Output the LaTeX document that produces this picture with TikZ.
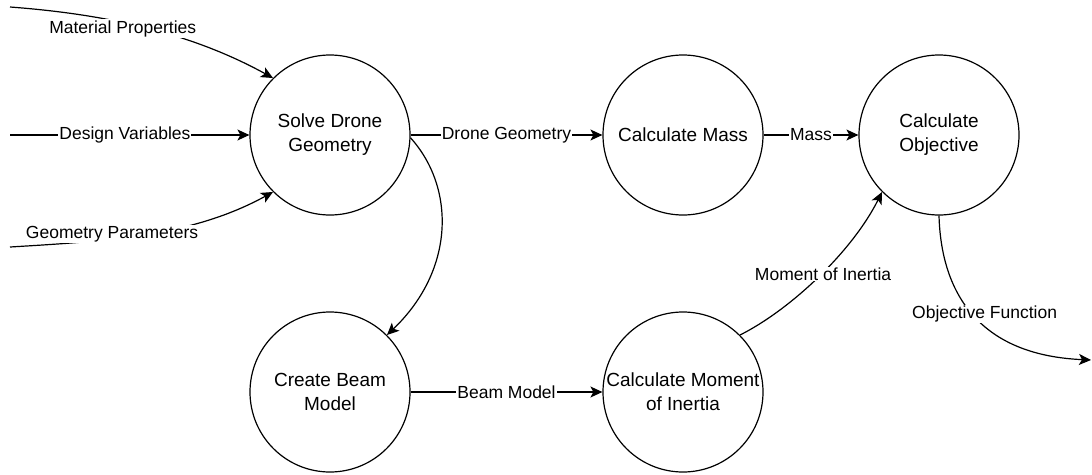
\documentclass[tikz,border=0pt]{standalone}
\usepackage{fontspec}
\setmainfont{Liberation Sans}
\usetikzlibrary{arrows.meta}
\begin{document}
\begin{tikzpicture}[x=1pt,y=-1pt,
  every path/.style={line width=1.2pt},
  >={Stealth[length=12pt,width=11pt,inset=3pt]},
  proc/.style={circle, draw, line width=1.2pt, minimum size=160pt, inner sep=0pt,
    align=center, font=\fontsize{19}{24}\selectfont},
  elabel/.style={fill=white, inner sep=1pt, font=\fontsize{17.5}{20}\selectfont},
  flow/.style={->, draw}]
\useasboundingbox (0,0) rectangle (1092,474);

% process circles
\node[proc] (sdg) at (330,135) {Solve Drone\\Geometry};
\node[proc] (cm)  at (683,135) {Calculate Mass};
\node[proc] (obj) at (939,135) {Calculate\\Objective};
\node[proc] (cbm) at (330,392) {Create Beam\\Model};
\node[proc] (cmi) at (683,392) {Calculate Moment\\of Inertia};

% free ends of the inputs and the output
\coordinate (in1) at (10,7);
\coordinate (in2) at (10,135);
\coordinate (in3) at (10,247);
\coordinate (out) at (1091,360);

% inputs
\path[flow] (in1) .. controls +(100,7.5) and +(-80,-44) .. (sdg.135)
  node[elabel, pos=0.4, yshift=-6pt] {Material Properties};
\path[flow] (in2) -- (sdg.west)
  node[elabel, pos=0.48] {Design Variables};
\path[flow] (in3) .. controls +(100,-6) and +(-80,44) .. (sdg.225)
  node[elabel, pos=0.36, yshift=5pt] {Geometry Parameters};

% main chain
\path[flow] (sdg.east) -- (cm.west) node[elabel, midway] {Drone Geometry};
\path[flow] (cm.east) -- (obj.west) node[elabel, midway] {Mass};
\path[flow] (sdg.-2) .. controls +(45,50) and +(68,-65) .. (cbm.45);
\path[flow] (cbm.east) -- (cmi.west) node[elabel, midway] {Beam Model};
\path[flow] (cmi.45) .. controls +(50,-25) and +(-30,60) .. (obj.225)
  node[elabel, pos=0.53, yshift=-2pt] {Moment of Inertia};

% output
\path[flow] (obj.south) .. controls +(2,74) and +(-115,-5) .. (out)
  node[elabel, pos=0.5, xshift=12pt] {Objective Function};
\end{tikzpicture}
\end{document}
